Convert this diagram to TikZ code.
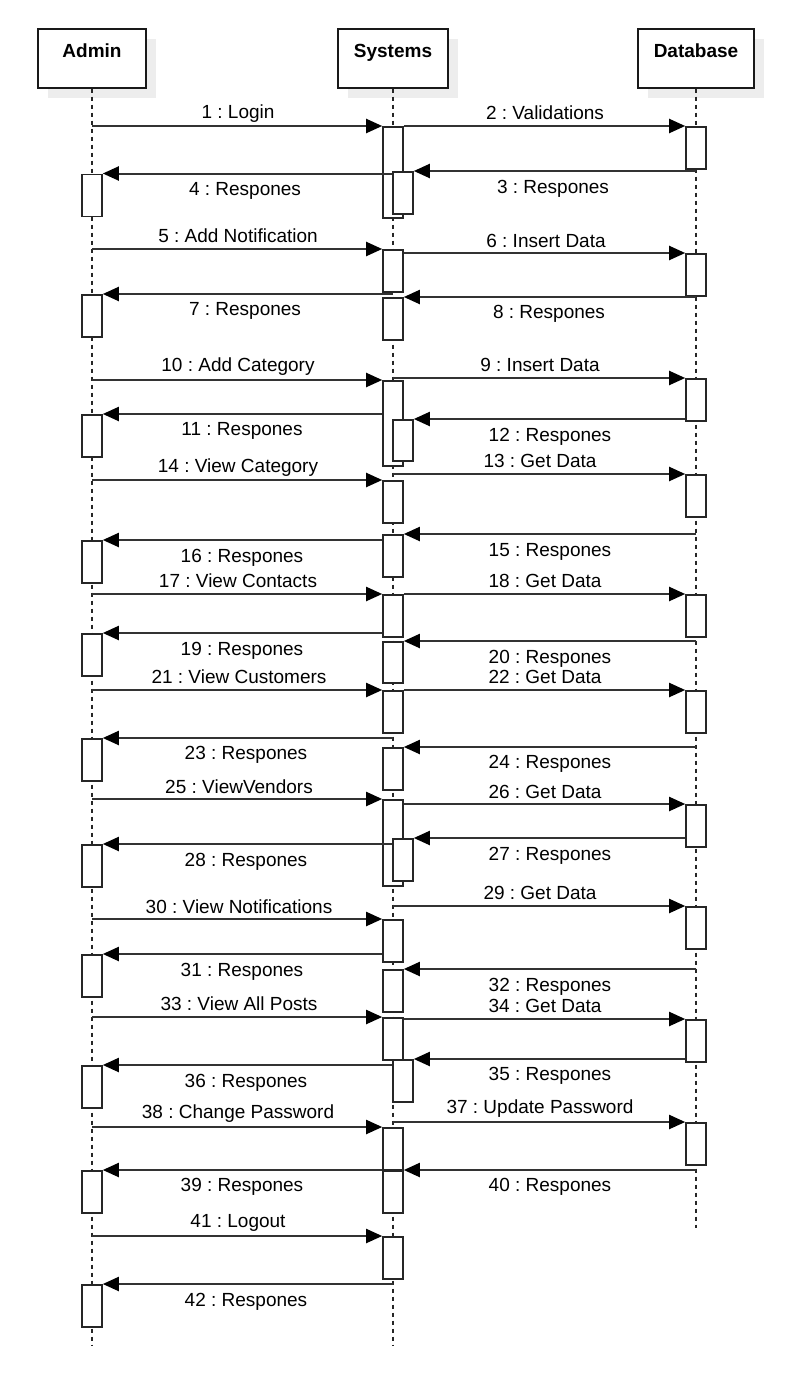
\documentclass[tikz,border=0pt]{standalone}
\usepackage{fontspec}
\setmainfont{Liberation Sans}
\usetikzlibrary{arrows.meta,shadows}
\frenchspacing

\newcommand\msgfont{\fontsize{19}{22}\selectfont}

\tikzset{
  head/.style={draw=black!90, line width=1.4, fill=white, minimum width=#1, minimum height=59,
    inner sep=0, font=\msgfont\bfseries, text height=14pt, text depth=17pt,
    general shadow={fill=black!7, shadow xshift=10pt, shadow yshift=-10pt}},
  head/.default=108,
  life/.style={draw=black!85, line width=1.3, dash pattern=on 4pt off 4pt},
  act/.style={draw=black!85, fill=white, line width=1.6, minimum width=20, minimum height=#1,
    inner sep=0, anchor=north},
  act/.default=42,
  msg/.style={draw=black!80, line width=2, -{Triangle[length=16pt,width=14pt,black]}},
}

\begin{document}
\begin{tikzpicture}[x=1pt, y=-1pt, every node/.style={font=\msgfont, inner sep=0}]
\useasboundingbox (0,0) rectangle (789,1392);

% Draw the three heads
\node[head] (admin) at (92,58.5) {Admin};
\node[head=110] (sys) at (393,58.5) {Systems};
\node[head=116] (db) at (696,58.5) {Database};

% Lifelines
\coordinate (adminend) at (92,1346);
\coordinate (sysend) at (393,1346);
\coordinate (dbend) at (696,1228);
\draw[life] (admin) -- (adminend);
\draw[life] (sys) -- (sysend);
\draw[life] (db) -- (dbend);

% Admin activations
\node[act] (a1) at (92,173.5) {};
\node[act] (a2) at (92,294) {};
\node[act] (a3) at (92,414) {};
\node[act] (a4) at (92,540) {};
\node[act] (a5) at (92,633) {};
\node[act] (a6) at (92,738) {};
\node[act] (a7) at (92,844) {};
\node[act] (a8) at (92,954) {};
\node[act] (a9) at (92,1065) {};
\node[act] (a10) at (92,1170) {};
\node[act] (a11) at (92,1284) {};

% Systems activations
\node[act=91] (s1) at (393,126) {};
\node[act] (s1n) at (403,171) {};
\node[act] (s2) at (393,249) {};
\node[act] (s3) at (393,297) {};
\node[act=85] (s4) at (393,380) {};
\node[act=41] (s4n) at (403,419) {};
\node[act] (s5) at (393,480) {};
\node[act] (s6) at (393,534) {};
\node[act] (s7) at (393,594) {};
\node[act=41] (s8) at (393,641) {};
\node[act] (s9) at (393,690) {};
\node[act] (s10) at (393,747) {};
\node[act=86] (s11) at (393,799) {};
\node[act] (s11n) at (403,838) {};
\node[act] (s12) at (393,919) {};
\node[act] (s13) at (393,969) {};
\node[act] (s14) at (393,1017) {};
\node[act] (s14n) at (403,1059) {};
\node[act] (s15) at (393,1127) {};
\node[act] (s16) at (393,1170) {};
\node[act] (s17) at (393,1236) {};

% Database activations
\node[act] (d1) at (696,126) {};
\node[act] (d2) at (696,253) {};
\node[act] (d3) at (696,378) {};
\node[act] (d4) at (696,474) {};
\node[act] (d5) at (696,594) {};
\node[act] (d6) at (696,690) {};
\node[act] (d7) at (696,804) {};
\node[act] (d8) at (696,906) {};
\node[act] (d9) at (696,1019) {};
\node[act] (d10) at (696,1122) {};

% Login
\draw[msg] (admin |- s1.north west) -- (s1.north west);
\node (l1) at (238,114) {1 : Login};
\draw[msg] (s1.north east) -- (d1.north west);
\node (l2) at (545,113) {2 : Validations};
\draw[msg] (db |- s1n.north east) -- (s1n.north east);
\node (l3) at (553,189) {3 : Respones};
\draw[msg] (s1n.west |- a1.north east) -- (a1.north east);
\node (l4) at (245,191) {4 : Respones};

% Add notification
\draw[msg] (admin |- s2.north west) -- (s2.north west);
\node (l5) at (238,236) {5 : Add Notification};
\draw[msg] (s2.east |- d2.north west) -- (d2.north west);
\node (l6) at (546,241) {6 : Insert Data};
\draw[msg] (sys |- a2.north east) -- (a2.north east);
\node (l7) at (245,311) {7 : Respones};
\draw[msg] (db |- s3.north east) -- (s3.north east);
\node (l8) at (549,314) {8 : Respones};

% Add category
\draw[msg] (admin |- s4.north west) -- (s4.north west);
\node (l10) at (238,367) {10 : Add Category};
\draw[msg] (sys |- d3.north west) -- (d3.north west);
\node (l9) at (540,365) {9 : Insert Data};
\draw[msg] (s4.west |- a3.north east) -- (a3.north east);
\node (l11) at (242,431) {11 : Respones};
\draw[msg] (d3.west |- s4n.north east) -- (s4n.north east);
\node (l12) at (550,437) {12 : Respones};

% View category
\draw[msg] (admin |- s5.north west) -- (s5.north west);
\node (l14) at (238,468) {14 : View Category};
\draw[msg] (sys |- d4.north west) -- (d4.north west);
\node (l13) at (540,461) {13 : Get Data};
\draw[msg] (db |- s6.north east) -- (s6.north east);
\node (l15) at (550,552) {15 : Respones};
\draw[msg] (s6.west |- a4.north east) -- (a4.north east);
\node (l16) at (242,558) {16 : Respones};

% View contacts
\draw[msg] (admin |- s7.north west) -- (s7.north west);
\node (l17) at (238,581) {17 : View Contacts};
\draw[msg] (s7.north east) -- (d5.north west);
\node (l18) at (545,581) {18 : Get Data};
\draw[msg] (s7.west |- a5.north east) -- (a5.north east);
\node (l19) at (242,651) {19 : Respones};
\draw[msg] (db |- s8.north east) -- (s8.north east);
\node (l20) at (550,659) {20 : Respones};

% View customers
\draw[msg] (admin |- s9.north west) -- (s9.north west);
\node (l21) at (239,677) {21 : View Customers};
\draw[msg] (s9.north east) -- (d6.north west);
\node (l22) at (545,677) {22 : Get Data};
\draw[msg] (sys |- a6.north east) -- (a6.north east);
\node (l23) at (246,755) {23 : Respones};
\draw[msg] (db |- s10.north east) -- (s10.north east);
\node (l24) at (550,764) {24 : Respones};

% View vendors
\draw[msg] (admin |- s11.north west) -- (s11.north west);
\node (l25) at (239,787) {25 : ViewVendors};
\draw[msg] (s11.east |- d7.north west) -- (d7.north west);
\node (l26) at (545,792) {26 : Get Data};
\draw[msg] (d7.west |- s11n.north east) -- (s11n.north east);
\node (l27) at (550,856) {27 : Respones};
\draw[msg] (s11n.west |- a7.north east) -- (a7.north east);
\node (l28) at (246,862) {28 : Respones};

% View notifications
\draw[msg] (sys |- d8.north west) -- (d8.north west);
\node (l29) at (540,893) {29 : Get Data};
\draw[msg] (admin |- s12.north west) -- (s12.north west);
\node (l30) at (239,907) {30 : View Notifications};
\draw[msg] (s12.west |- a8.north east) -- (a8.north east);
\node (l31) at (242,972) {31 : Respones};
\draw[msg] (db |- s13.north east) -- (s13.north east);
\node (l32) at (550,987) {32 : Respones};

% View all posts
\draw[msg] (admin |- s14.north west) -- (s14.north west);
\node (l33) at (239,1004) {33 : View All Posts};
\draw[msg] (s14.east |- d9.north west) -- (d9.north west);
\node (l34) at (545,1006) {34 : Get Data};
\draw[msg] (d9.west |- s14n.north east) -- (s14n.north east);
\node (l35) at (550,1076) {35 : Respones};
\draw[msg] (s14n.west |- a9.north east) -- (a9.north east);
\node (l36) at (246,1083) {36 : Respones};

% Change password
\draw[msg] (admin |- s15.north west) -- (s15.north west);
\node (l38) at (238,1114) {38 : Change Password};
\draw[msg] (sys |- d10.north west) -- (d10.north west);
\node (l37) at (540,1109) {37 : Update Password};
\draw[msg] (s16.north west) -- (a10.north east);
\node (l39) at (242,1187) {39 : Respones};
\draw[msg] (db |- s16.north east) -- (s16.north east);
\node (l40) at (550,1187) {40 : Respones};

% Logout
\draw[msg] (admin |- s17.north west) -- (s17.north west);
\node (l41) at (238,1223) {41 : Logout};
\draw[msg] (sys |- a11.north east) -- (a11.north east);
\node (l42) at (246,1302) {42 : Respones};
\end{tikzpicture}
\end{document}
